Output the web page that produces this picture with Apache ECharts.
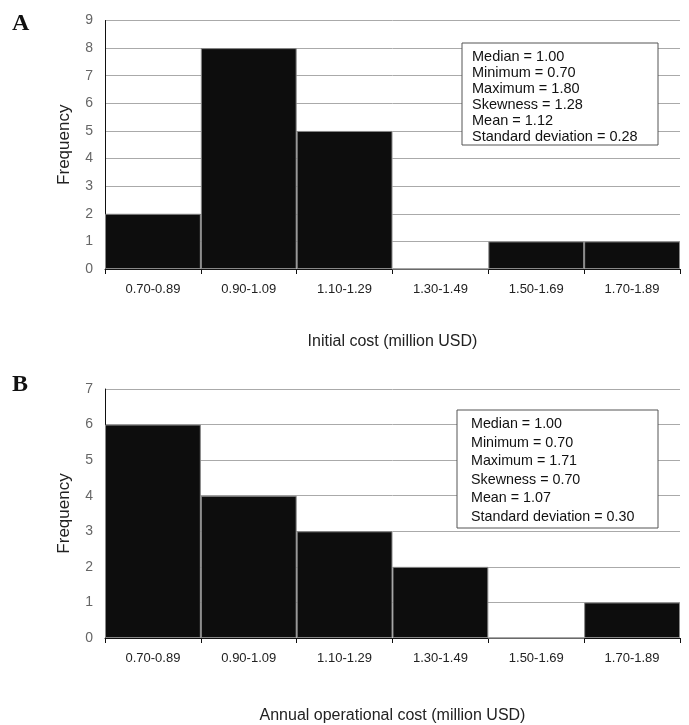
<!DOCTYPE html>
<html lang="en">
<head>
    <meta charset="UTF-8">
    <title>Cost histograms</title>
    <script src="https://cdn.jsdelivr.net/npm/echarts@6/dist/echarts.min.js"></script>
    <style>
        html, body {
            margin: 0;
            padding: 0;
            background: #fff;
        }

        #chart {
            width: 689px;
            height: 725px;
        }
    </style>
</head>
<body>
<div id="chart"></div>

<script type="text/javascript">
    // 分组区间
    var bins = ['0.70-0.89', '0.90-1.09', '1.10-1.29', '1.30-1.49', '1.50-1.69', '1.70-1.89'];
    // A: 初始成本频数
    var initialFreq = [2, 8, 5, 0, 1, 1];
    // B: 年运营成本频数
    var annualFreq = [6, 4, 3, 2, 0, 1];
    var statsA = ['Median = 1.00', 'Minimum = 0.70', 'Maximum = 1.80', 'Skewness = 1.28', 'Mean = 1.12', 'Standard deviation = 0.28'];
    var statsB = ['Median = 1.00', 'Minimum = 0.70', 'Maximum = 1.71', 'Skewness = 0.70', 'Mean = 1.07', 'Standard deviation = 0.30'];

    var font = 'Liberation Sans, Arial, sans-serif';

    function xAxisOf(idx, name, gap) {
        return {
            type: 'category',
            gridIndex: idx,
            data: bins,
            boundaryGap: true,
            name: name,
            nameLocation: 'middle',
            nameGap: gap,
            nameTextStyle: {fontFamily: font, fontSize: 16, color: '#222'},
            axisLine: {lineStyle: {color: '#111', width: 1}},
            axisTick: {show: true, alignWithLabel: false, interval: 0, length: 5, lineStyle: {color: '#111'}},
            axisLabel: {interval: 0, margin: 14, fontFamily: font, fontSize: 13, color: '#222'}
        }
    }

    function yAxisOf(idx, max) {
        return {
            type: 'value',
            gridIndex: idx,
            min: 0,
            max: max,
            interval: 1,
            name: 'Frequency',
            nameLocation: 'middle',
            nameGap: 32,
            nameRotate: 90,
            nameTextStyle: {fontFamily: font, fontSize: 17, color: '#222'},
            axisLine: {show: true, lineStyle: {color: '#111', width: 1}},
            axisTick: {show: false},
            axisLabel: {margin: 12, fontFamily: font, fontSize: 14, color: '#666'},
            splitLine: {show: true, lineStyle: {color: '#aaa', width: 1}}
        }
    }

    function statsBox(x, y, w, h, lines, dx, step, size) {
        var els = [{
            type: 'rect',
            shape: {x: x, y: y, width: w, height: h},
            style: {fill: '#fff', stroke: '#555', lineWidth: 1},
            z: 100
        }];
        for (var i = 0; i < lines.length; i++) {
            els.push({
                type: 'text',
                x: x + dx,
                y: y + 14 + i * step,
                style: {text: lines[i], fontFamily: font, fontSize: size, fill: '#111', verticalAlign: 'middle'},
                z: 101
            });
        }
        return els;
    }

    var barStyle = {color: '#0d0d0d', borderColor: '#888', borderWidth: 1};

    var chart = echarts.init(document.getElementById('chart'));
    var option = {
        animation: false,
        backgroundColor: '#fff',
        grid: [
            {left: 105, top: 20.5, width: 575, height: 248.5},
            {left: 105, top: 389, width: 575, height: 253}
        ],
        xAxis: [
            xAxisOf(0, 'Initial cost (million USD)', 65),
            xAxisOf(1, 'Annual operational cost (million USD)', 70)
        ],
        yAxis: [yAxisOf(0, 9), yAxisOf(1, 7)],
        series: [
            {type: 'bar', xAxisIndex: 0, yAxisIndex: 0, data: initialFreq, barCategoryGap: '0%', itemStyle: barStyle},
            {type: 'bar', xAxisIndex: 1, yAxisIndex: 1, data: annualFreq, barCategoryGap: '0%', itemStyle: barStyle}
        ],
        graphic: [].concat(
            [
                {type: 'text', x: 12, y: 12, style: {text: 'A', fontFamily: 'Liberation Serif, Times New Roman, serif', fontWeight: 'bold', fontSize: 24, fill: '#111'}},
                {type: 'text', x: 12, y: 373, style: {text: 'B', fontFamily: 'Liberation Serif, Times New Roman, serif', fontWeight: 'bold', fontSize: 24, fill: '#111'}}
            ],
            statsBox(462, 43, 196, 102, statsA, 10, 16, 14.5),
            statsBox(457, 410, 201, 118, statsB, 14, 18.6, 14.3)
        )
    };
    chart.setOption(option);
</script>
</body>
</html>
